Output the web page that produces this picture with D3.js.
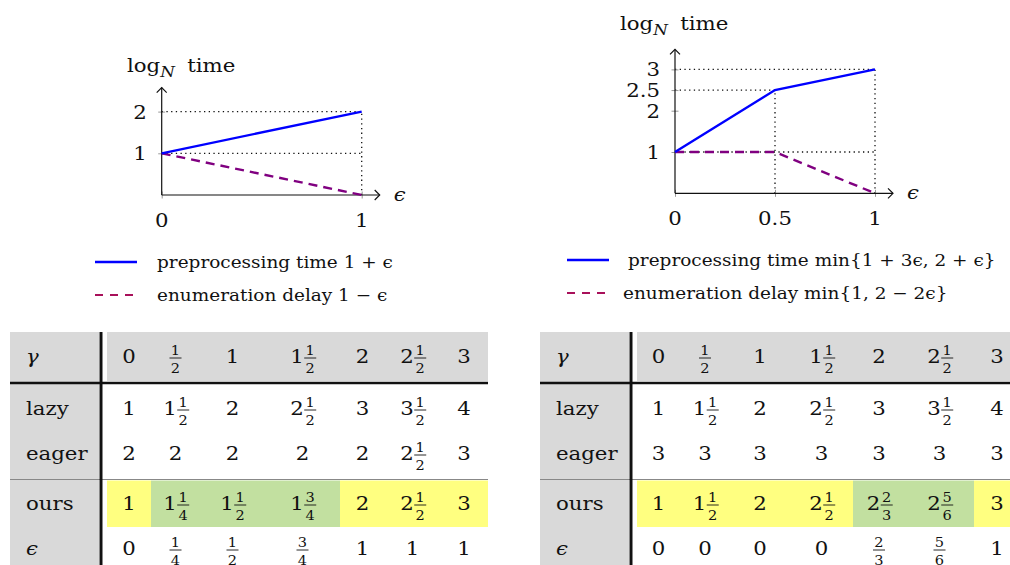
<!DOCTYPE html>
<html>
<head>
<meta charset="utf-8">
<script src="https://cdn.jsdelivr.net/npm/d3@7"></script>
<style>
  body { margin: 0; background: #fff; }
</style>
</head>
<body>
<div id="chart"></div>
<script>
// ---- chart data ----
var leftEps = [0, 1],
    leftPre = [1, 2],
    leftDelay = [1, 0],
    leftXTicks = [0, 1],
    leftYTicks = [1, 2];

var rightEps = [0, 0.5, 1],
    rightPre = [1, 2.5, 3],
    rightDelay = [1, 1, 0],
    rightXTicks = [0, 0.5, 1],
    rightYTicks = [1, 2, 2.5, 3];

// ---- table data ----
var rowNames = ["γ", "lazy", "eager", "ours", "ϵ"];
var gammaCols = ["0", "1/2", "1", "1 1/2", "2", "2 1/2", "3"];

var leftLazy  = ["1", "1 1/2", "2", "2 1/2", "3", "3 1/2", "4"];
var leftEager = ["2", "2", "2", "2", "2", "2 1/2", "3"];
var leftOurs  = ["1", "1 1/4", "1 1/2", "1 3/4", "2", "2 1/2", "3"];
var leftEpsRow = ["0", "1/4", "1/2", "3/4", "1", "1", "1"];
var leftOursKind = ["a", "b", "b", "b", "a", "a", "a"];

var rightLazy  = ["1", "1 1/2", "2", "2 1/2", "3", "3 1/2", "4"];
var rightEager = ["3", "3", "3", "3", "3", "3", "3"];
var rightOurs  = ["1", "1 1/2", "2", "2 1/2", "2 2/3", "2 5/6", "3"];
var rightEpsRow = ["0", "0", "0", "0", "2/3", "5/6", "1"];
var rightOursKind = ["a", "a", "a", "a", "b", "b", "a"];

var SX = 1.12;  // the original looks stretched sideways
var FONT = "DejaVu Serif";

var svg = d3.select("#chart")
  .append("svg")
    .attr("width", 1010)
    .attr("height", 565);

function label(g, x, y, s, size, anchor, italic) {
  return g.append("text")
    .attr("transform", "translate(" + x + "," + y + ") scale(" + SX + ",1)")
    .attr("text-anchor", anchor || "start")
    .attr("fill", "#111")
    .style("font-family", FONT)
    .style("font-size", size + "px")
    .style("font-style", italic ? "italic" : null)
    .text(s);
}

function arrowHead(g, x, y, dir) {
  var p = dir == "right"
    ? "M" + (x - 5) + "," + (y - 5) + " L" + x + "," + y + " L" + (x - 5) + "," + (y + 5)
    : "M" + (x - 5) + "," + (y + 5) + " L" + x + "," + y + " L" + (x + 5) + "," + (y + 5);
  g.append("path").attr("d", p).attr("fill", "none").attr("stroke", "#111").attr("stroke-width", 1.2);
}

function plot(opt) {
  var g = svg.append("g");
  var x = d3.scaleLinear().domain([0, 1]).range(opt.xr);
  var y = d3.scaleLinear().domain([0, opt.ymax]).range(opt.yr);
  var x0 = x(0), y0 = y(0);

  // dotted guides
  opt.guides.forEach(function(d) {
    g.append("line")
      .attr("x1", x(d[0])).attr("y1", y(d[1]))
      .attr("x2", x(d[2])).attr("y2", y(d[3]))
      .attr("stroke", "#111").attr("stroke-width", 1.3)
      .attr("stroke-dasharray", "1.3,3.4");
  });

  // ticks
  g.append("g")
    .attr("transform", "translate(" + (x0 + 3.5) + ",0)")
    .call(d3.axisLeft(y).tickValues(opt.yTicks).tickSize(7).tickFormat(""))
    .call(function(a) { a.select(".domain").remove(); a.selectAll("line").attr("stroke", "#999"); });
  g.append("g")
    .attr("transform", "translate(0," + (y0 - 3.5) + ")")
    .call(d3.axisBottom(x).tickValues(opt.xTicks).tickSize(7).tickFormat(""))
    .call(function(a) { a.select(".domain").remove(); a.selectAll("line").attr("stroke", "#999"); });

  // axis lines with arrows
  var xEnd = x(1) + 18, yEnd = y(opt.ymax) - opt.yExtra;
  g.append("line").attr("x1", x0).attr("x2", xEnd).attr("y1", y0).attr("y2", y0)
    .attr("stroke", "#111").attr("stroke-width", 1.2);
  g.append("line").attr("x1", x0).attr("x2", x0).attr("y1", y0).attr("y2", yEnd)
    .attr("stroke", "#111").attr("stroke-width", 1.2);
  arrowHead(g, xEnd, y0, "right");
  arrowHead(g, x0, yEnd, "up");

  // tick labels
  opt.xTicks.forEach(function(t) { label(g, x(t), y0 + 32, String(t), 19, "middle"); });
  opt.yTicks.forEach(function(t) { label(g, x0 - 15, y(t) + 7, String(t), 19, "end"); });

  // axis labels
  label(g, xEnd + 14, y0 + 6, "ϵ", 19, "start", true);
  var t = label(g, opt.titleX, opt.titleY, "log", 19, "start");
  t.append("tspan").attr("dy", 5).style("font-size", "15px").style("font-style", "italic").text("N");
  t.append("tspan").attr("dy", -5).attr("dx", 11).text("time");

  // data lines
  var line = d3.line().x(function(d) { return x(d[0]); }).y(function(d) { return y(d[1]); });
  g.append("path")
    .datum(d3.zip(opt.eps, opt.delay))
    .attr("d", line).attr("fill", "none")
    .attr("stroke", "#800080").attr("stroke-width", 2.4).attr("stroke-dasharray", "9,6");
  g.append("path")
    .datum(d3.zip(opt.eps, opt.pre))
    .attr("d", line).attr("fill", "none")
    .attr("stroke", "#0000ff").attr("stroke-width", 2.4);

  // legend
  var L = opt.legend;
  g.append("line").attr("x1", L.x1).attr("x2", L.x2).attr("y1", L.y1).attr("y2", L.y1)
    .attr("stroke", "#0000ff").attr("stroke-width", 2.6);
  g.append("line").attr("x1", L.x1).attr("x2", L.x2).attr("y1", L.y2).attr("y2", L.y2)
    .attr("stroke", "#a8105a").attr("stroke-width", 2).attr("stroke-dasharray", "8,7");
  label(g, L.t1, L.y1 + 6, L.s1, 16.5, "start");
  label(g, L.t2, L.y2 + 6, L.s2, 16.5, "start");
}

plot({
  xr: [161.7, 361.7], yr: [195, 111.6], ymax: 2, yExtra: 24,
  eps: leftEps, pre: leftPre, delay: leftDelay,
  xTicks: leftXTicks, yTicks: leftYTicks,
  guides: [[0, 2, 1, 2], [0, 1, 1, 1], [1, 0, 1, 2]],
  titleX: 127, titleY: 72,
  legend: { x1: 95, x2: 137, y1: 262, y2: 295, t1: 157, t2: 157,
            s1: "preprocessing time 1 + ϵ", s2: "enumeration delay 1 − ϵ" }
});

plot({
  xr: [675, 875], yr: [193.3, 69.4], ymax: 3, yExtra: 20,
  eps: rightEps, pre: rightPre, delay: rightDelay,
  xTicks: rightXTicks, yTicks: rightYTicks,
  guides: [[0, 3, 1, 3], [0, 2.5, 0.5, 2.5], [0, 1, 1, 1], [0.5, 0, 0.5, 2.5], [1, 0, 1, 3]],
  titleX: 620, titleY: 30,
  legend: { x1: 567, x2: 609, y1: 260, y2: 293, t1: 628, t2: 623,
            s1: "preprocessing time min{1 + 3ϵ, 2 + ϵ}", s2: "enumeration delay min{1, 2 − 2ϵ}" }
});

// ---- tables ----
var rowBase = d3.scaleOrdinal().domain(rowNames).range([363, 415, 460, 510, 555]);
var kindColor = d3.scaleOrdinal().domain(["a", "b"]).range(["#ffff80", "#c2e0a0"]);

function cellValue(g, cx, base, s) {
  var parts = s.split(" ");
  var whole = parts.length == 2 ? parts[0] : (s.indexOf("/") < 0 ? s : null);
  var frac = s.indexOf("/") >= 0 ? parts[parts.length - 1].split("/") : null;
  var wW = whole ? 12 * SX * whole.length : 0;
  var fW = frac ? 9 : 0;
  var gap = whole && frac ? 2 : 0;
  var left = cx - (wW + gap + fW) / 2;
  if (whole) label(g, left, base, whole, 19, "start");
  if (frac) {
    var fx = left + wW + gap + fW / 2;
    label(g, fx, base - 8, frac[0], 13, "middle");
    g.append("line").attr("x1", fx - 6).attr("x2", fx + 6)
      .attr("y1", base - 5).attr("y2", base - 5).attr("stroke", "#111").attr("stroke-width", 0.9);
    label(g, fx, base + 9.5, frac[1], 13, "middle");
  }
}

function table(opt) {
  var g = svg.append("g");
  var col = d3.scaleLinear().domain(d3.range(opt.edges.length)).range(opt.edges);
  var x0 = opt.x0, xl = opt.edges[0], xr = opt.edges[opt.edges.length - 1];

  // grey header and label column
  g.append("rect").attr("x", x0).attr("y", 332).attr("width", opt.vx - 2 - x0).attr("height", 565 - 332).attr("fill", "#d9d9d9");
  g.append("rect").attr("x", xl).attr("y", 332).attr("width", xr - xl).attr("height", 49).attr("fill", "#d9d9d9");

  // highlighted "ours" cells
  opt.kind.forEach(function(k, i) {
    g.append("rect").attr("x", col(i)).attr("y", 480.5).attr("width", col(i + 1) - col(i)).attr("height", 46.5)
      .attr("fill", kindColor(k));
  });

  // rules
  g.append("line").attr("x1", x0).attr("x2", xr).attr("y1", 383).attr("y2", 383)
    .attr("stroke", "#111").attr("stroke-width", 2.6);
  g.append("line").attr("x1", x0).attr("x2", xr).attr("y1", 479.5).attr("y2", 479.5)
    .attr("stroke", "#888").attr("stroke-width", 1.1);
  g.append("line").attr("x1", opt.vx).attr("x2", opt.vx).attr("y1", 332).attr("y2", 565)
    .attr("stroke", "#111").attr("stroke-width", 3);

  // row labels
  rowNames.forEach(function(r) {
    var it = r == "γ" || r == "ϵ";
    label(g, x0 + 16, rowBase(r), r, 19, "start", it);
  });

  var rows = [gammaCols, opt.lazy, opt.eager, opt.ours, opt.eps];
  rows.forEach(function(vals, ri) {
    vals.forEach(function(v, i) {
      cellValue(g, col(i + 0.5), rowBase(rowNames[ri]), v);
    });
  });
}

table({
  x0: 10, vx: 101, edges: [107, 151, 200, 265, 340, 385, 440, 488],
  lazy: leftLazy, eager: leftEager, ours: leftOurs, eps: leftEpsRow, kind: leftOursKind
});

table({
  x0: 540, vx: 631, edges: [637, 680, 730, 790, 853, 905, 974, 1020],
  lazy: rightLazy, eager: rightEager, ours: rightOurs, eps: rightEpsRow, kind: rightOursKind
});
</script>
</body>
</html>
